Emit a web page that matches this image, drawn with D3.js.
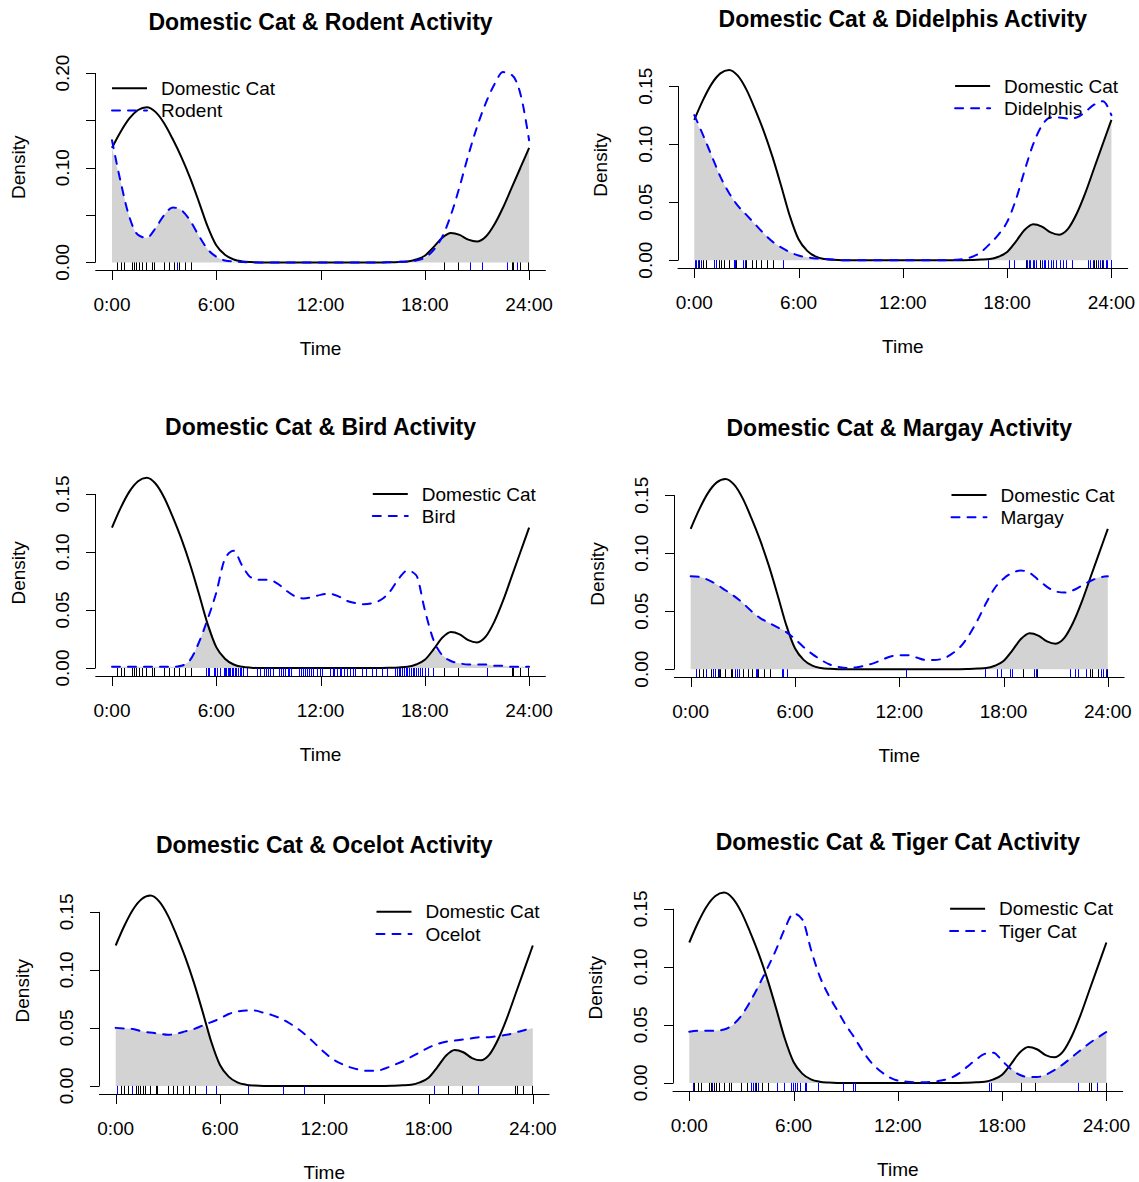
<!DOCTYPE html>
<html>
<head>
<meta charset="utf-8">
<script src="https://cdn.jsdelivr.net/npm/d3@7"></script>
<style>
body { margin: 0; background: #fff; }
text { font-family: "Liberation Sans", Arial, sans-serif; fill: #000; }
</style>
</head>
<body>
<div id="chart"></div>
<script>

// half-hour grid the density curves were read on
var hours = d3.range(0, 24.001, 0.5);

// domestic cat density (same curve in every panel)
var catDensity = [0.121, 0.138, 0.152, 0.161, 0.164, 0.159, 0.147, 0.130, 0.111, 0.089,
    0.064, 0.038, 0.018, 0.008, 0.003, 0.001, 0.0003,
    0, 0, 0, 0, 0, 0, 0, 0, 0, 0, 0, 0, 0, 0, 0,
    0.0002, 0.0005, 0.001, 0.003, 0.007, 0.016, 0.026, 0.031, 0.029, 0.024,
    0.022, 0.027, 0.040, 0.058, 0.079, 0.100, 0.121];

var rodentDensity = [0.129, 0.085, 0.048, 0.029, 0.026, 0.036, 0.050, 0.058, 0.055, 0.044,
    0.028, 0.014, 0.006, 0.002, 0.001, 0.0003,
    0, 0, 0, 0, 0, 0, 0, 0, 0, 0, 0, 0, 0, 0, 0, 0,
    0.0002, 0.0005, 0.001, 0.002, 0.005, 0.013, 0.027, 0.050, 0.080, 0.113,
    0.143, 0.168, 0.188, 0.201, 0.198, 0.178, 0.129];

var didelphisDensity = [0.125, 0.108, 0.090, 0.072, 0.058, 0.047, 0.039, 0.031, 0.023, 0.016,
    0.011, 0.007, 0.004, 0.0025, 0.0015, 0.001, 0.0005,
    0, 0, 0, 0, 0, 0, 0, 0, 0, 0, 0, 0, 0,
    0.0003, 0.001, 0.003, 0.007, 0.014, 0.022, 0.033, 0.052, 0.077, 0.100,
    0.116, 0.123, 0.123, 0.122, 0.123, 0.128, 0.134, 0.137, 0.125];

var birdDensity = [0.001, 0.001, 0.001, 0.001, 0.001, 0.001, 0.001, 0.001, 0.002, 0.007,
    0.022, 0.042, 0.065, 0.094, 0.101, 0.088, 0.078, 0.076, 0.076, 0.073,
    0.067, 0.062, 0.060, 0.061, 0.063, 0.064, 0.062, 0.058, 0.056, 0.055,
    0.056, 0.059, 0.066, 0.077, 0.084, 0.080, 0.050, 0.024, 0.011, 0.006,
    0.004, 0.003, 0.003, 0.003, 0.002, 0.002, 0.001, 0.001, 0.001];

var margayDensity = [0.080, 0.0795, 0.077, 0.073, 0.068, 0.063, 0.057, 0.050, 0.044, 0.040,
    0.036, 0.032, 0.026, 0.019, 0.013, 0.008, 0.004, 0.002, 0.001, 0.0015,
    0.003, 0.005, 0.008, 0.011, 0.012, 0.012, 0.010, 0.008, 0.008, 0.009,
    0.013, 0.019, 0.029, 0.042, 0.057, 0.070, 0.078, 0.083, 0.085, 0.083,
    0.077, 0.071, 0.067, 0.066, 0.068, 0.072, 0.076, 0.079, 0.080];

var ocelotDensity = [0.050, 0.0495, 0.049, 0.047, 0.046, 0.045, 0.044, 0.045, 0.047, 0.049,
    0.052, 0.055, 0.058, 0.062, 0.064, 0.065, 0.065, 0.063, 0.061, 0.058,
    0.054, 0.049, 0.043, 0.036, 0.029, 0.023, 0.019, 0.016, 0.014, 0.013,
    0.013, 0.015, 0.018, 0.021, 0.025, 0.029, 0.033, 0.036, 0.038, 0.039,
    0.040, 0.041, 0.042, 0.042, 0.043, 0.044, 0.046, 0.048, 0.050];

var tigerCatDensity = [0.044, 0.045, 0.045, 0.045, 0.046, 0.050, 0.058, 0.070, 0.084, 0.099,
    0.115, 0.133, 0.146, 0.141, 0.115, 0.092, 0.076, 0.063, 0.050, 0.039,
    0.027, 0.017, 0.010, 0.005, 0.002, 0.001, 0.0005, 0.0005, 0.001, 0.002,
    0.004, 0.008, 0.014, 0.020, 0.025, 0.026, 0.019, 0.012, 0.007, 0.005,
    0.005, 0.007, 0.011, 0.016, 0.022, 0.028, 0.034, 0.039, 0.044];

// detection times (hours) for the rug marks
var catTimes = [0.3, 0.5, 0.7, 1.15, 1.27, 1.4, 1.55, 1.7, 1.97, 2.3, 2.4, 3.0, 3.3, 3.55,
    3.85, 4.2, 4.55, 19.1, 19.9, 23.0, 23.1, 23.45, 23.95];

var rodentTimes = [3.74, 20.6, 21.28, 22.73, 23.33];

var didelphisTimes = [0.04, 0.11, 0.23, 0.4, 1.15, 1.25, 2.27, 2.34, 2.82, 2.92, 5.12,
    16.9, 18.1, 18.4, 19.15, 19.25, 19.34, 19.46, 19.57, 19.67, 19.98, 20.1, 20.2, 20.36,
    20.5, 20.65, 20.84, 21.03, 21.22, 21.41, 21.76, 22.66, 22.79, 22.95, 23.2, 23.35,
    23.5, 23.66, 23.77, 23.98];

var birdTimes = [5.41, 5.5, 5.6, 5.85, 5.95, 6.05, 6.2, 6.42, 6.5, 6.58, 6.65, 6.72, 6.8,
    6.88, 6.95, 7.05, 7.15, 7.25, 7.35, 7.45, 7.55, 7.75, 8.35, 8.5, 8.72, 8.85, 9.0, 9.1,
    9.25, 9.6, 9.7, 9.85, 9.95, 10.1, 10.2, 10.32, 10.75, 10.85, 11.0, 11.1, 11.2, 11.35,
    11.45, 11.58, 11.8, 11.95, 12.1, 12.55, 12.7, 12.8, 12.95, 13.1, 13.2, 13.35, 13.5,
    13.72, 13.85, 14.0, 14.4, 14.6, 14.95, 15.2, 15.55, 15.8, 16.3, 16.4, 16.5, 16.6,
    16.7, 16.8, 16.9, 17.0, 17.1, 17.2, 17.3, 17.4, 17.5, 17.6, 17.72, 17.85, 18.0, 18.2,
    18.45, 21.6];

var margayTimes = [0.31, 0.88, 1.3, 1.4, 1.65, 2.55, 2.65, 2.8, 3.76, 3.84, 5.24, 5.34,
    5.57, 12.38, 16.95, 17.6, 17.87, 18.35, 18.49, 19.74, 19.89, 21.85, 22.14, 22.27,
    22.77, 23.58, 23.73, 23.87];

var ocelotTimes = [0.06, 0.92, 5.2, 5.76, 7.6, 9.62, 10.85, 18.3, 20.86];

var tigerCatTimes = [0.19, 1.33, 3.53, 3.65, 3.78, 3.98, 5.03, 5.46, 5.84, 5.95, 6.09,
    6.22, 6.38, 6.66, 6.72, 7.43, 8.83, 9.41, 9.55, 17.22, 17.36, 22.35, 23.43];

var speciesNames = ["Rodent", "Didelphis", "Bird", "Margay", "Ocelot", "Tiger Cat"];
var speciesDensity = [rodentDensity, didelphisDensity, birdDensity, margayDensity, ocelotDensity, tigerCatDensity];
var speciesTimes = [rodentTimes, didelphisTimes, birdTimes, margayTimes, ocelotTimes, tigerCatTimes];

var hourTicks = [0, 6, 12, 18, 24];
var hourLabels = ["0:00", "6:00", "12:00", "18:00", "24:00"];
var densityTicks = [0, 0.05, 0.10, 0.15, 0.20];

// where each plot region sits on the page (the panels were saved separately)
var layout = [
    {left: 95.3, top: 64.5, legend: "left"},
    {left: 677.6, top: 62.3, legend: "right"},
    {left: 95.3, top: 470.1, legend: "right"},
    {left: 674.0, top: 471.3, legend: "right"},
    {left: 99.0, top: 888.0, legend: "right"},
    {left: 672.6, top: 885.0, legend: "right"}
];

var plotW = 450.5, plotH = 205.5;
var tick = 9.5;

var svg = d3.select("#chart").append("svg")
    .attr("width", 1139)
    .attr("height", 1182)
    .style("background", "#fff");

// snap 1px lines onto the pixel grid so they stay crisp
function crisp(v) { return Math.round(v) + 0.5; }

function drawPanel(i) {
    var p = layout[i];
    var other = speciesDensity[i];
    var ymax = d3.max(catDensity.concat(other));

    // R style axes: 4% padding on both ends
    var x = d3.scaleLinear().domain([-0.96, 24.96]).range([p.left, p.left + plotW]);
    var y = d3.scaleLinear().domain([-0.04 * ymax, 1.04 * ymax]).range([p.top + plotH, p.top]);

    var g = svg.append("g");
    var bottom = crisp(p.top + plotH);
    var left = crisp(p.left);

    // overlap area = lower of the two curves
    var overlap = hours.map(function(h, k) { return [h, Math.min(catDensity[k], other[k])]; });
    var area = d3.area()
        .curve(d3.curveMonotoneX)
        .x(function(d) { return x(d[0]); })
        .y0(y(0))
        .y1(function(d) { return y(d[1]); });
    g.append("path")
        .attr("d", area(overlap))
        .attr("fill", "#d3d3d3");

    var line = d3.line()
        .curve(d3.curveMonotoneX)
        .x(function(d) { return x(d[0]); })
        .y(function(d) { return y(d[1]); });

    g.append("path")
        .attr("d", line(hours.map(function(h, k) { return [h, catDensity[k]]; })))
        .attr("fill", "none")
        .attr("stroke", "#000")
        .attr("stroke-width", 2);

    g.append("path")
        .attr("d", line(hours.map(function(h, k) { return [h, other[k]]; })))
        .attr("fill", "none")
        .attr("stroke", "#0000ff")
        .attr("stroke-width", 2)
        .attr("stroke-dasharray", "8,8")
        .attr("stroke-linecap", "round");

    // rugs
    g.selectAll(".rugcat").data(catTimes).enter().append("line")
        .attr("x1", function(d) { return crisp(x(d)); })
        .attr("x2", function(d) { return crisp(x(d)); })
        .attr("y1", y(0))
        .attr("y2", bottom)
        .attr("stroke", "#000")
        .attr("stroke-width", 1);
    g.selectAll(".rugsp").data(speciesTimes[i]).enter().append("line")
        .attr("x1", function(d) { return crisp(x(d)); })
        .attr("x2", function(d) { return crisp(x(d)); })
        .attr("y1", y(0))
        .attr("y2", bottom)
        .attr("stroke", "#0000ff")
        .attr("stroke-width", 1);

    // x axis
    g.append("line")
        .attr("x1", p.left).attr("x2", p.left + plotW)
        .attr("y1", bottom).attr("y2", bottom)
        .attr("stroke", "#000");
    hourTicks.forEach(function(h, k) {
        g.append("line")
            .attr("x1", crisp(x(h))).attr("x2", crisp(x(h)))
            .attr("y1", bottom).attr("y2", bottom + tick)
            .attr("stroke", "#000");
        g.append("text")
            .attr("x", x(h))
            .attr("y", bottom + 33.5)
            .attr("dy", "0.35em")
            .attr("text-anchor", "middle")
            .style("font-size", "19px")
            .text(hourLabels[k]);
    });
    g.append("text")
        .attr("x", p.left + plotW / 2)
        .attr("y", bottom + 78)
        .attr("dy", "0.35em")
        .attr("text-anchor", "middle")
        .style("font-size", "19px")
        .text("Time");

    // y axis
    var yt = densityTicks.filter(function(v) { return v <= ymax + 1e-9; });
    var step = Math.abs(y(0) - y(0.05));
    g.append("line")
        .attr("x1", left).attr("x2", left)
        .attr("y1", y(0)).attr("y2", y(yt[yt.length - 1]))
        .attr("stroke", "#000");
    yt.forEach(function(v, k) {
        g.append("line")
            .attr("x1", left - tick).attr("x2", left)
            .attr("y1", crisp(y(v))).attr("y2", crisp(y(v)))
            .attr("stroke", "#000");
        // R drops labels that would crowd each other
        if (step < 50 && k % 2 == 1) return;
        g.append("text")
            .attr("transform", "translate(" + (p.left - 32.5) + "," + y(v) + ") rotate(-90)")
            .attr("dy", "0.35em")
            .attr("text-anchor", "middle")
            .style("font-size", "19px")
            .text(v.toFixed(2));
    });
    g.append("text")
        .attr("transform", "translate(" + (p.left - 77) + "," + (p.top + plotH / 2) + ") rotate(-90)")
        .attr("dy", "0.35em")
        .attr("text-anchor", "middle")
        .style("font-size", "19px")
        .text("Density");

    // title
    g.append("text")
        .attr("x", p.left + plotW / 2)
        .attr("y", p.top - 43)
        .attr("dy", "0.35em")
        .attr("text-anchor", "middle")
        .style("font-size", "23px")
        .style("font-weight", "bold")
        .text("Domestic Cat & " + speciesNames[i] + " Activity");

    // legend
    var lx = p.legend == "left" ? p.left + 16.7 : p.left + plotW - 173;
    var rows = [
        {label: "Domestic Cat", color: "#000", dash: null},
        {label: speciesNames[i], color: "#0000ff", dash: "8,8"}
    ];
    rows.forEach(function(r, k) {
        var ly = p.top + 23.8 + k * 22.2;
        g.append("line")
            .attr("x1", lx).attr("x2", lx + 35)
            .attr("y1", ly).attr("y2", ly)
            .attr("stroke", r.color)
            .attr("stroke-width", 2)
            .attr("stroke-dasharray", r.dash)
            .attr("stroke-linecap", r.dash ? "round" : null);
        g.append("text")
            .attr("x", lx + 49)
            .attr("y", ly)
            .attr("dy", "0.35em")
            .style("font-size", "19px")
            .text(r.label);
    });
}

for (var i = 0; i < speciesNames.length; i++) {
    drawPanel(i);
}

</script>
</body>
</html>
